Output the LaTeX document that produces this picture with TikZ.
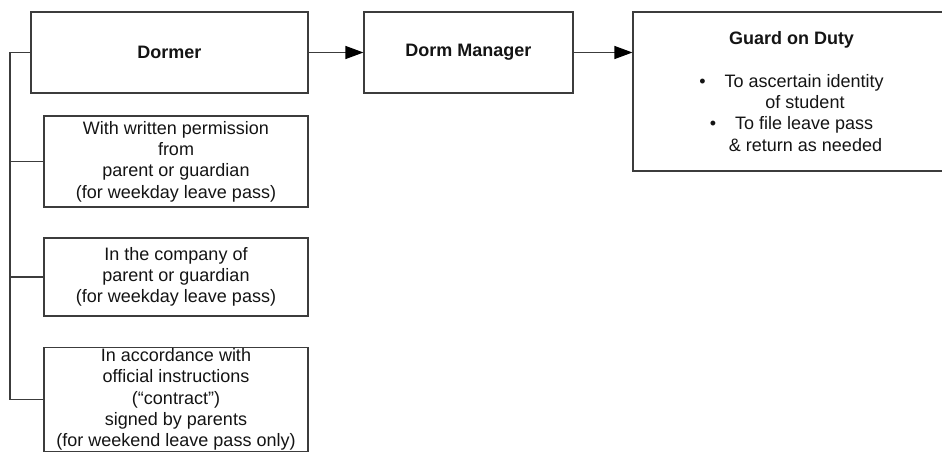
\documentclass[tikz,border=0pt]{standalone}
\usepackage{fontspec}
\setmainfont{Liberation Sans}
\usetikzlibrary{arrows.meta}
\definecolor{ln}{RGB}{60,60,60}
\definecolor{tx}{RGB}{20,20,20}

\begin{document}
\begin{tikzpicture}[x=1pt,y=-1pt,
  box/.style={draw=ln,line width=1.1pt,inner sep=0pt,align=center,text=tx,font=\fontsize{18}{21.3}\selectfont},
  link/.style={draw=ln,line width=1.1pt},
  arr/.style={link,-{Triangle[length=18pt,width=13pt,black]}}]
\useasboundingbox (0,0) rectangle (942,452);\clip (0,0) rectangle (942,452);
% top row
\node[box,minimum width=277pt,minimum height=81pt,font=\fontsize{18}{21.3}\selectfont\bfseries] (dormer) at (169.5,52.5) {Dormer};
\node[box,minimum width=209pt,minimum height=81pt,font=\fontsize{18}{21.3}\selectfont\bfseries] (manager) at (468.5,52.5) {Dorm Manager};
\node[box,minimum width=317pt,minimum height=159pt] (guard) at (791.5,91.5) {\textbf{Guard on Duty}\\[21pt]
  \textbullet\hspace{19pt}To ascertain identity\\ \hspace*{27pt}of student\\
  \textbullet\hspace{19pt}To file leave pass\\ \hspace*{28pt}\& return as needed};
% conditions
\node[box,minimum width=264pt,minimum height=91pt] (written) at (176,161.5) {With written permission\\from\\parent or guardian\\(for weekday leave pass)};
\node[box,minimum width=264pt,minimum height=78pt] (company) at (176,277) {In the company of\\parent or guardian\\(for weekday leave pass)};
\node[box,minimum width=264pt,minimum height=104pt] (contract) at (176,399.5) {In accordance with\\official instructions\\(``contract'')\\signed by parents\\(for weekend leave pass only)};
\coordinate (top) at (10,52.5);\coordinate (bot) at (10,399.5);
\draw[link] (dormer.west)--(top)--(bot)--(contract.west);
\draw[link] (written.west)--(written.west -| top);
\draw[link] (company.west)--(company.west -| top);
\draw[arr] (dormer.east)--(manager.west);
\draw[arr] (manager.east)--(guard.west |- manager.east);
\end{tikzpicture}
\end{document}
